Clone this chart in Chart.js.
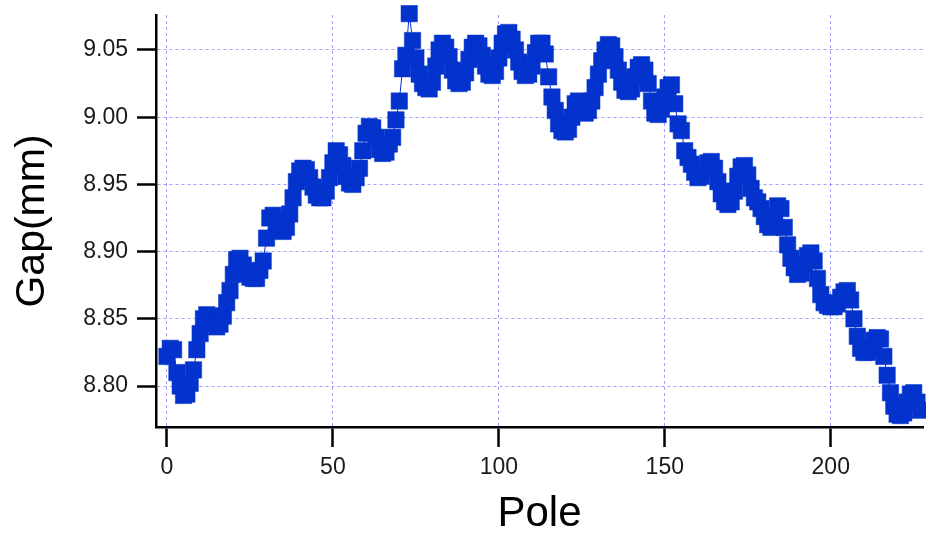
<!DOCTYPE html>
<html>
<head>
<meta charset="utf-8">
<script src="https://cdn.jsdelivr.net/npm/chart.js@4.4.0/dist/chart.umd.min.js"></script>
<style>
  html, body { margin: 0; padding: 0; background: #ffffff; }
  canvas { display: block; }
</style>
</head>
<body>
<canvas id="gapChart" width="926" height="536"></canvas>
<script>
// measured gap per pole, starting at pole 0
var firstPole = 0;
var gapValues = [
  8.822, 8.828, 8.827, 8.810, 8.800, 8.793, 8.794, 8.802, 8.812, 8.827,
  8.839, 8.850, 8.853, 8.852, 8.847, 8.844, 8.846, 8.852, 8.862, 8.871,
  8.883, 8.894, 8.895, 8.890, 8.884, 8.881, 8.880, 8.880, 8.886, 8.893,
  8.910, 8.925, 8.927, 8.922, 8.916, 8.915, 8.918, 8.928, 8.940, 8.952,
  8.960, 8.962, 8.961, 8.955, 8.948, 8.942, 8.940, 8.940, 8.945, 8.955,
  8.966, 8.975, 8.972, 8.964, 8.956, 8.951, 8.950, 8.955, 8.962, 8.975,
  8.988, 8.993, 8.992, 8.985, 8.976, 8.973, 8.974, 8.980, 8.985, 8.998,
  9.012, 9.036, 9.046, 9.077, 9.057, 9.044, 9.032, 9.025, 9.022, 9.021,
  9.026, 9.038, 9.050, 9.055, 9.052, 9.045, 9.035, 9.027, 9.025, 9.026,
  9.033, 9.043, 9.052, 9.055, 9.053, 9.046, 9.038, 9.032, 9.031, 9.034,
  9.044, 9.055, 9.062, 9.063, 9.058, 9.050, 9.041, 9.034, 9.031, 9.032,
  9.038, 9.048, 9.055, 9.055, 9.047, 9.030, 9.015, 9.005, 8.995, 8.990,
  8.989, 8.991, 9.000, 9.010, 9.012, 9.008, 9.003, 9.005, 9.012, 9.022,
  9.032, 9.042, 9.050, 9.054, 9.053, 9.045, 9.035, 9.026, 9.020, 9.019,
  9.021, 9.030, 9.037, 9.039, 9.035, 9.025, 9.012, 9.003, 9.002, 9.006,
  9.015, 9.022, 9.024, 9.010, 8.995, 8.990, 8.975, 8.970, 8.965, 8.959,
  8.955, 8.956, 8.961, 8.966, 8.967, 8.962, 8.952, 8.943, 8.937, 8.935,
  8.937, 8.945, 8.956, 8.963, 8.964, 8.957, 8.947, 8.940, 8.937, 8.932,
  8.926, 8.920, 8.918, 8.925, 8.934, 8.932, 8.918, 8.905, 8.895, 8.888,
  8.883, 8.884, 8.890, 8.897, 8.899, 8.893, 8.880, 8.868, 8.862, 8.860,
  8.859, 8.859, 8.861, 8.866, 8.870, 8.871, 8.864, 8.850, 8.837, 8.828,
  8.825, 8.825, 8.828, 8.834, 8.836, 8.835, 8.822, 8.808, 8.795, 8.785,
  8.779, 8.778, 8.780, 8.788, 8.794, 8.795, 8.788, 8.782
];

var xTicks = [0, 50, 100, 150, 200];
var yTicks = [8.80, 8.85, 8.90, 8.95, 9.00, 9.05];

var markerColor = '#0333cc';
var gridColor = 'rgba(110, 110, 255, 0.65)';
var fontFamily = 'Liberation Sans, Arial, sans-serif';

var points = gapValues.map(function(v, i) {
    return { x: firstPole + i, y: v };
});

var ctx = document.getElementById('gapChart').getContext('2d');
var gapChart = new Chart(ctx, {
    type: 'line',
    data: {
        datasets: [{
            data: points,
            showLine: true,
            borderColor: markerColor,
            borderWidth: 1,
            tension: 0,
            pointStyle: 'rect',
            pointRadius: 11.6,
            pointBackgroundColor: markerColor,
            pointBorderColor: markerColor,
            pointBorderWidth: 0.5,
            clip: false
        }]
    },
    options: {
        responsive: false,
        animation: false,
        layout: { autoPadding: false, padding: { top: 15, right: 3, left: 0, bottom: 0 } },
        plugins: {
            legend: { display: false },
            tooltip: { enabled: false }
        },
        scales: {
            x: {
                type: 'linear',
                min: -3.3,
                max: 227.8,
                afterBuildTicks: function(scale) {
                    scale.ticks = xTicks.map(function(v) { return { value: v }; });
                },
                afterFit: function(scale) {
                    scale.height = 109;
                    scale.paddingLeft = 0;
                    scale.paddingRight = 0;
                },
                grid: {
                    color: gridColor,
                    lineWidth: 1,
                    drawTicks: true,
                    tickColor: '#000000',
                    tickWidth: 2.5,
                    tickLength: 20
                },
                border: { display: true, color: '#000000', width: 2.5, dash: [3, 3] },
                ticks: {
                    color: '#1a1a1a',
                    padding: 7,
                    maxRotation: 0,
                    font: { family: fontFamily, size: 23 }
                },
                title: {
                    display: true,
                    text: 'Pole',
                    color: '#000000',
                    padding: { top: 0, bottom: -4 },
                    font: { family: fontFamily, size: 42 }
                }
            },
            y: {
                type: 'linear',
                min: 8.7695,
                max: 9.076,
                afterBuildTicks: function(scale) {
                    scale.ticks = yTicks.map(function(v) { return { value: v }; });
                },
                afterFit: function(scale) {
                    scale.width = 156;
                    scale.paddingTop = 0;
                    scale.paddingBottom = 0;
                },
                grid: {
                    color: gridColor,
                    lineWidth: 1,
                    drawTicks: true,
                    tickColor: '#000000',
                    tickWidth: 2.5,
                    tickLength: 19
                },
                border: { display: true, color: '#000000', width: 2.5, dash: [3, 3] },
                ticks: {
                    color: '#1a1a1a',
                    padding: 9,
                    font: { family: fontFamily, size: 23 },
                    callback: function(value) { return value.toFixed(2); }
                },
                title: {
                    display: true,
                    text: 'Gap(mm)',
                    color: '#000000',
                    padding: { top: 8, bottom: 0 },
                    font: { family: fontFamily, size: 41 }
                }
            }
        }
    }
});
</script>
</body>
</html>
